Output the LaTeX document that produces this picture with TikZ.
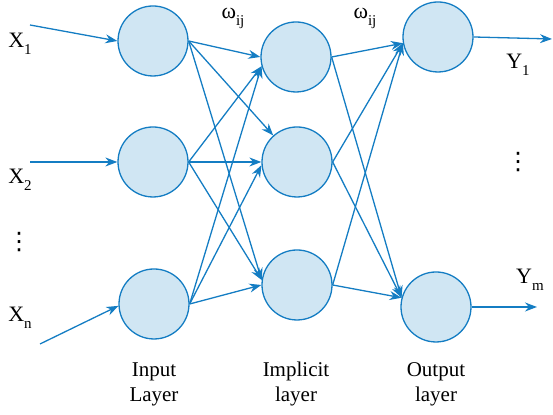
\documentclass[tikz,border=0pt]{standalone}
\usepackage{fontspec}
\setmainfont{Liberation Serif}
\newfontfamily\symfont{DejaVu Sans}
\usepackage{xcolor}
\usetikzlibrary{arrows.meta}
\definecolor{netblue}{RGB}{20,125,195}
\definecolor{cellfill}{RGB}{208,230,243}
\newcommand{\varsub}[2]{#1\raisebox{-3.5pt}{\fontsize{7.5}{8}\selectfont #2}}

\begin{document}
\begin{tikzpicture}[
  x=0.5pt,y=0.5pt,
  font=\fontsize{10.5}{12.5}\selectfont,
  neuron/.style={circle,draw=netblue,fill=cellfill,line width=0.65pt,minimum size=35pt,inner sep=0pt},
  lab/.style={align=center,inner sep=0pt},
  var/.style={inner sep=0pt,font=\fontsize{11}{13}\selectfont},
  vdot/.style={inner sep=0pt,font=\symfont\fontsize{12}{13}\selectfont},
  ar/.style={-{Stealth[length=6pt,width=4.5pt]},draw=netblue,line width=0.65pt}
]
\useasboundingbox (0,0) rectangle (553,415);
% neurons
\node[neuron] (in1) at (153,374) {};
\node[neuron] (in2) at (153,253) {};
\node[neuron] (in3) at (154,111) {};
\node[neuron] (hid1) at (296,358) {};
\node[neuron] (hid2) at (297,253) {};
\node[neuron] (hid3) at (297,130) {};
\node[neuron] (out1) at (438,378) {};
\node[neuron] (out2) at (436,108) {};
% free ends
\coordinate (x1) at (30,390);
\coordinate (x2) at (30,253);
\coordinate (xn) at (40,71);
\coordinate (y1) at (552,376);
\coordinate (ym) at (537,108);
% labels
\node[var] (lx1) at (20,371) {\varsub{X}{1}};
\node[var] (lx2) at (20,235) {\varsub{X}{2}};
\node[vdot] (lxd) at (19,173) {⋮};
\node[var] (lxn) at (20,97) {\varsub{X}{n}};
\node[var] (w1) at (233,397) {\varsub{ω}{ij}};
\node[var] (w2) at (365,397) {\varsub{ω}{ij}};
\node[var] (ly1) at (518,350) {\varsub{Y}{1}};
\node[vdot] (lyd) at (518,253) {⋮};
\node[var] (lym) at (530,135) {\varsub{Y}{m}};
\node[lab] (tin) at (154,31) {Input\\Layer};
\node[lab] (thid) at (296,31) {Implicit\\layer};
\node[lab] (tout) at (436,31) {Output\\layer};
% connections
\draw[ar] (x1) -- (in1.west); \draw[ar] (x2) -- (in2.west); \draw[ar] (xn) -- (in3.183);
\draw[ar] (in1.east) -- (hid1.west); \draw[ar] (in1.east) -- (hid2); \draw[ar] (in1.east) -- (hid3.172);
\draw[ar] (in2.east) -- (hid1.195); \draw[ar] (in2.east) -- (hid2.west); \draw[ar] (in2.east) -- (hid3.172);
\draw[ar] (in3.east) -- (hid1.195); \draw[ar] (in3.east) -- (hid2.185); \draw[ar] (in3.east) -- (hid3.west);
\draw[ar] (hid1.east) -- (out1.190); \draw[ar] (hid2.east) -- (out1.190); \draw[ar] (hid3.east) -- (out1.190);
\draw[ar] (hid1.east) -- (out2.165); \draw[ar] (hid2.east) -- (out2.165); \draw[ar] (hid3.east) -- (out2.165);
\draw[ar] (out1.east) -- (y1); \draw[ar] (out2.east) -- (ym);
\end{tikzpicture}
\end{document}
